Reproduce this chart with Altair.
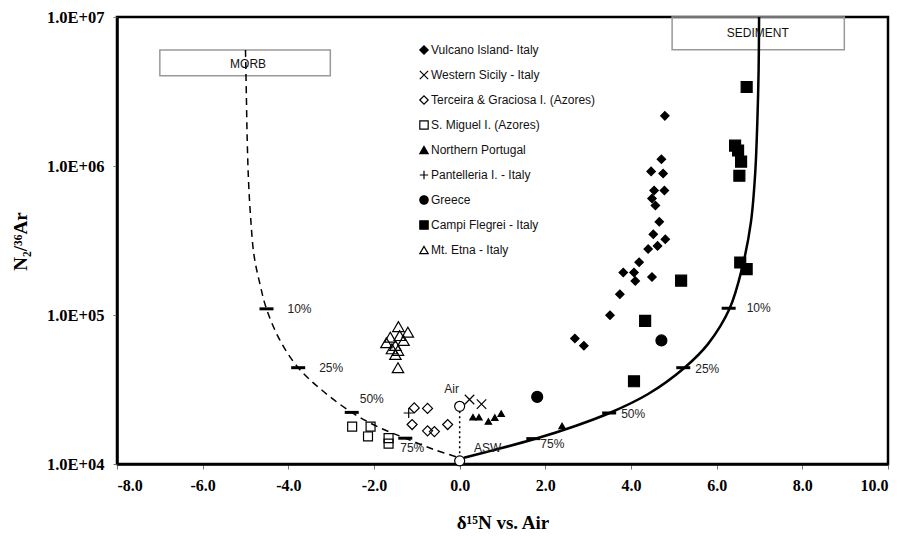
import altair as alt
import pandas as pd

# ---------------- data ----------------
series_names = [
    "Vulcano Island- Italy",
    "Western Sicily - Italy",
    "Terceira & Graciosa I. (Azores)",
    "S. Miguel I. (Azores)",
    "Northern Portugal",
    "Pantelleria I. - Italy",
    "Greece",
    "Campi Flegrei - Italy",
    "Mt. Etna - Italy",
]

vulcano_x = [4.79, 4.71, 4.47, 4.75, 4.54, 4.78, 4.49, 4.57, 4.66, 4.52, 4.80, 4.62, 4.40, 4.19,
             3.82, 4.07, 4.10, 4.49, 3.74, 3.51, 2.69, 2.90]
vulcano_y = [2.17e6, 1.11e6, 9.2e5, 8.9e5, 6.85e5, 6.85e5, 6.05e5, 5.43e5, 4.22e5, 3.48e5, 3.22e5,
             2.91e5, 2.77e5, 2.26e5, 1.93e5, 1.93e5, 1.69e5, 1.80e5, 1.38e5, 9.96e4, 6.95e4, 6.22e4]
sicily_x = [0.23, 0.51]
sicily_y = [2.71e4, 2.52e4]
terceira_x = [-1.06, -0.75, -1.11, -0.75, -0.59, -0.28]
terceira_y = [2.38e4, 2.36e4, 1.84e4, 1.67e4, 1.65e4, 1.84e4]
miguel_x = [-2.51, -2.08, -2.14, -1.66, -1.66]
miguel_y = [1.78e4, 1.78e4, 1.53e4, 1.49e4, 1.37e4]
portugal_x = [0.31, 0.45, 0.67, 0.82, 0.97, 2.39]
portugal_y = [2.06e4, 2.06e4, 1.93e4, 2.05e4, 2.18e4, 1.80e4]
pantelleria_x = [-1.19]
pantelleria_y = [2.2e4]
greece_x = [4.71, 1.81]
greece_y = [6.75e4, 2.82e4]
campi_x = [6.70, 6.43, 6.50, 6.57, 6.53, 6.55, 6.70, 5.17, 4.33, 4.07]
campi_y = [3.39e6, 1.37e6, 1.27e6, 1.07e6, 8.6e5, 2.25e5, 2.03e5, 1.70e5, 9.14e4, 3.59e4]
etna_x = [-1.43, -1.21, -1.62, -1.40, -1.31, -1.71, -1.50, -1.58, -1.44, -1.50, -1.44]
etna_y = [8.36e4, 7.66e4, 7.09e4, 7.28e4, 6.74e4, 6.51e4, 6.25e4, 5.93e4, 5.78e4, 5.43e4, 4.43e4]

ref_names = ["Air", "ASW"]
ref_x = [0.0, 0.0]
ref_y = [2.44e4, 1.05e4]

# mixing curves
morb_curve_x = [-5.0, -4.98, -4.96, -4.93, -4.88, -4.80, -4.66, -4.51, -4.20, -3.77, -3.20, -2.52,
                -1.90, -1.27, -0.60, 0.0]
morb_curve_y = [6.0e6, 3.0e6, 1.5e6, 8.0e5, 4.5e5, 2.5e5, 1.6e5, 1.1e5, 6.8e4, 4.43e4, 3.1e4, 2.22e4,
                1.77e4, 1.49e4, 1.25e4, 1.1e4]
sed_curve_x = [0.1, 0.75, 1.75, 2.70, 3.50, 4.40, 5.25, 5.80, 6.30, 6.60, 6.80, 6.90, 6.95, 6.98, 6.99]
sed_curve_y = [1.1e4, 1.23e4, 1.47e4, 1.8e4, 2.2e4, 2.95e4, 4.43e4, 6.4e4, 1.1e5, 2.1e5, 4.2e5, 9e5,
               2e6, 4.5e6, 1e7]

pct_labels = ["10%", "25%", "50%", "75%"]
morb_tick_x = [-4.51, -3.77, -2.52, -1.27]
morb_tick_y = [1.1e5, 4.43e4, 2.22e4, 1.49e4]
sed_tick_x = [6.28, 5.22, 3.49, 1.72]
sed_tick_y = [1.11e5, 4.43e4, 2.2e4, 1.48e4]

box_names = ["MORB", "SEDIMENT"]
box_x1 = [-7.0, 4.96]
box_x2 = [-3.02, 8.98]
box_y1 = [4.04e6, 6.04e6]
box_y2 = [6.0e6, 1.0e7]
box_label_x = [-4.94, 6.96]
box_label_y = [4.83e6, 7.75e6]

# ---------------- styles ----------------
X_PATH = "M-1,-1L1,1M-1,1L1,-1"
PLUS_PATH = "M-1,0L1,0M0,-1L0,1"
shapes = ["diamond", X_PATH, "diamond", "square", "triangle-up", PLUS_PATH, "circle", "square", "triangle-up"]
fills = ["black", "transparent", "transparent", "transparent", "black", "transparent", "black", "black", "transparent"]
strokes = ["black"] * len(series_names)
sizes = [70, 90, 100, 80, 40, 100, 120, 120, 130]

all_x = [vulcano_x, sicily_x, terceira_x, miguel_x, portugal_x, pantelleria_x, greece_x, campi_x, etna_x]
all_y = [vulcano_y, sicily_y, terceira_y, miguel_y, portugal_y, pantelleria_y, greece_y, campi_y, etna_y]

rows = []
for name, xs, ys, sz in zip(series_names, all_x, all_y, sizes):
    for x, y in zip(xs, ys):
        rows.append({"series": name, "d15N": x, "ratio": y, "sz": sz})
pts = pd.DataFrame(rows)

morb_df = pd.DataFrame({"d15N": morb_curve_x, "ratio": morb_curve_y, "o": range(len(morb_curve_x))})
sed_df = pd.DataFrame({"d15N": sed_curve_x, "ratio": sed_curve_y, "o": range(len(sed_curve_x))})
ref_df = pd.DataFrame({"name": ref_names, "d15N": ref_x, "ratio": ref_y})
morb_ticks = pd.DataFrame({"lab": pct_labels, "d15N": morb_tick_x, "ratio": morb_tick_y})
sed_ticks = pd.DataFrame({"lab": pct_labels, "d15N": sed_tick_x, "ratio": sed_tick_y})
box_df = pd.DataFrame({"name": box_names, "x1": box_x1, "x2": box_x2, "y1": box_y1, "y2": box_y2,
                       "lx": box_label_x, "ly": box_label_y})

SERIF = "Liberation Serif"
SANS = "Liberation Sans"

X = alt.X(
    "d15N:Q",
    scale=alt.Scale(domain=[-8, 10], nice=False, zero=False),
    axis=alt.Axis(
        values=list(range(-8, 11, 2)),
        labelExpr="(datum.value < 0 ? '-' : '') + format(abs(datum.value), '.1f')",
        labelFont=SERIF, labelFontWeight="bold", labelFontSize=16, labelColor="black",
        labelPadding=8, tickSize=5, tickColor="#777", tickWidth=1,
        domainColor="black", domainWidth=2.5, grid=False,
        title="δ¹⁵N vs. Air", titleFont=SERIF, titleFontSize=19, titleFontWeight="bold",
        titleColor="black", titleY=58, titleBaseline="middle",
    ),
)
Y = alt.Y(
    "ratio:Q",
    scale=alt.Scale(type="log", domain=[1e4, 1e7], nice=False),
    axis=alt.Axis(
        values=[1e4, 1e5, 1e6, 1e7],
        labelExpr="'1.0E+0' + format(round(log(datum.value) / LN10), 'd')",
        labelFont=SERIF, labelFontWeight="bold", labelFontSize=16.5, labelColor="black",
        labelPadding=9, tickSize=4, tickColor="#777", tickWidth=1,
        domainColor="black", domainWidth=2.5, grid=False,
        title="N₂/³⁶Ar", titleFont=SERIF, titleFontSize=19, titleFontWeight="bold",
        titleColor="black", titleX=-97, titleY=224, titleBaseline="middle", titleAlign="center",
    ),
)

legend = alt.Legend(
    title=None, orient="none", legendX=301, legendY=27, padding=0,
    labelFont=SANS, labelFontSize=12, labelColor="#111", labelOffset=1, labelLimit=400,
    rowPadding=11, symbolSize=70, symbolStrokeColor="black", symbolStrokeWidth=1.2,
)

boxes = alt.Chart(box_df).mark_rect(fill="transparent", stroke="#999", strokeWidth=1.5).encode(
    x=alt.X("x1:Q"), x2="x2:Q", y=alt.Y("y1:Q"), y2="y2:Q"
)
box_text = alt.Chart(box_df).mark_text(font=SANS, fontSize=12, color="#111").encode(
    x=alt.X("lx:Q"), y=alt.Y("ly:Q"), text="name:N"
)

morb_line = alt.Chart(morb_df).mark_line(color="black", strokeWidth=1.5, strokeDash=[7, 5],
                                         interpolate="catmull-rom").encode(x=X, y=Y, order="o:Q")
sed_line = alt.Chart(sed_df).mark_line(color="black", strokeWidth=2.5,
                                       interpolate="catmull-rom").encode(x=X, y=Y, order="o:Q")
air_asw = alt.Chart(ref_df).mark_line(color="black", strokeWidth=1.5, strokeDash=[2, 3]).encode(x=X, y=Y)

tick_style = dict(shape="M-1,0L1,0", size=196, stroke="black", strokeWidth=3, opacity=1, filled=False)
morb_tk = alt.Chart(morb_ticks).mark_point(**tick_style).encode(x=X, y=Y)
sed_tk = alt.Chart(sed_ticks).mark_point(**tick_style).encode(x=X, y=Y)

pct_style = dict(font=SANS, fontSize=12, color="#222", align="left", baseline="middle")
morb_lab_a = alt.Chart(morb_ticks).transform_filter(
    alt.FieldOneOfPredicate(field="lab", oneOf=["10%", "25%"])
).mark_text(dx=21, **pct_style).encode(x=X, y=Y, text="lab:N")
morb_lab_b = alt.Chart(morb_ticks).transform_filter(
    alt.FieldEqualPredicate(field="lab", equal="50%")
).mark_text(dx=8, dy=-13, **pct_style).encode(x=X, y=Y, text="lab:N")
morb_lab_c = alt.Chart(morb_ticks).transform_filter(
    alt.FieldEqualPredicate(field="lab", equal="75%")
).mark_text(dx=-5, dy=10, **pct_style).encode(x=X, y=Y, text="lab:N")
sed_lab_a = alt.Chart(sed_ticks).transform_filter(
    alt.FieldEqualPredicate(field="lab", equal="10%")
).mark_text(dx=18, **pct_style).encode(x=X, y=Y, text="lab:N")
sed_lab_b = alt.Chart(sed_ticks).transform_filter(
    alt.FieldOneOfPredicate(field="lab", oneOf=["25%", "50%"])
).mark_text(dx=12, dy=1, **pct_style).encode(x=X, y=Y, text="lab:N")
sed_lab_c = alt.Chart(sed_ticks).transform_filter(
    alt.FieldEqualPredicate(field="lab", equal="75%")
).mark_text(dx=7, dy=5, **pct_style).encode(x=X, y=Y, text="lab:N")

points = alt.Chart(pts).mark_point(strokeWidth=1.2, opacity=1).encode(
    x=X, y=Y,
    shape=alt.Shape("series:N", scale=alt.Scale(domain=series_names, range=shapes), legend=legend),
    fill=alt.Fill("series:N", scale=alt.Scale(domain=series_names, range=fills), legend=legend),
    stroke=alt.Stroke("series:N", scale=alt.Scale(domain=series_names, range=strokes), legend=legend),
    size=alt.Size("sz:Q", scale=None),
)

ref_pts = alt.Chart(ref_df).mark_point(shape="circle", size=100, stroke="black", strokeWidth=1.2,
                                       fill="white", filled=True, opacity=1).encode(x=X, y=Y)
air_lab = alt.Chart(ref_df).transform_filter(
    alt.FieldEqualPredicate(field="name", equal="Air")
).mark_text(font=SANS, fontSize=12, color="#222", dx=-8, dy=-17).encode(x=X, y=Y, text="name:N")
asw_lab = alt.Chart(ref_df).transform_filter(
    alt.FieldEqualPredicate(field="name", equal="ASW")
).mark_text(font=SANS, fontSize=12, color="#222", dx=28, dy=-13).encode(x=X, y=Y, text="name:N")

chart = alt.layer(
    boxes, morb_line, sed_line, air_asw, morb_tk, sed_tk,
    morb_lab_a, morb_lab_b, morb_lab_c, sed_lab_a, sed_lab_b, sed_lab_c,
    points, ref_pts, air_lab, asw_lab, box_text,
).properties(
    width=771, height=447,
    autosize=alt.AutoSizeParams(type="none"),
    padding={"left": 109, "top": 9, "right": 10, "bottom": 70},
    background="white",
).configure_view(stroke="black", strokeWidth=2.5)

chart.save("out.html", embed_options={"renderer": "svg", "actions": False})
